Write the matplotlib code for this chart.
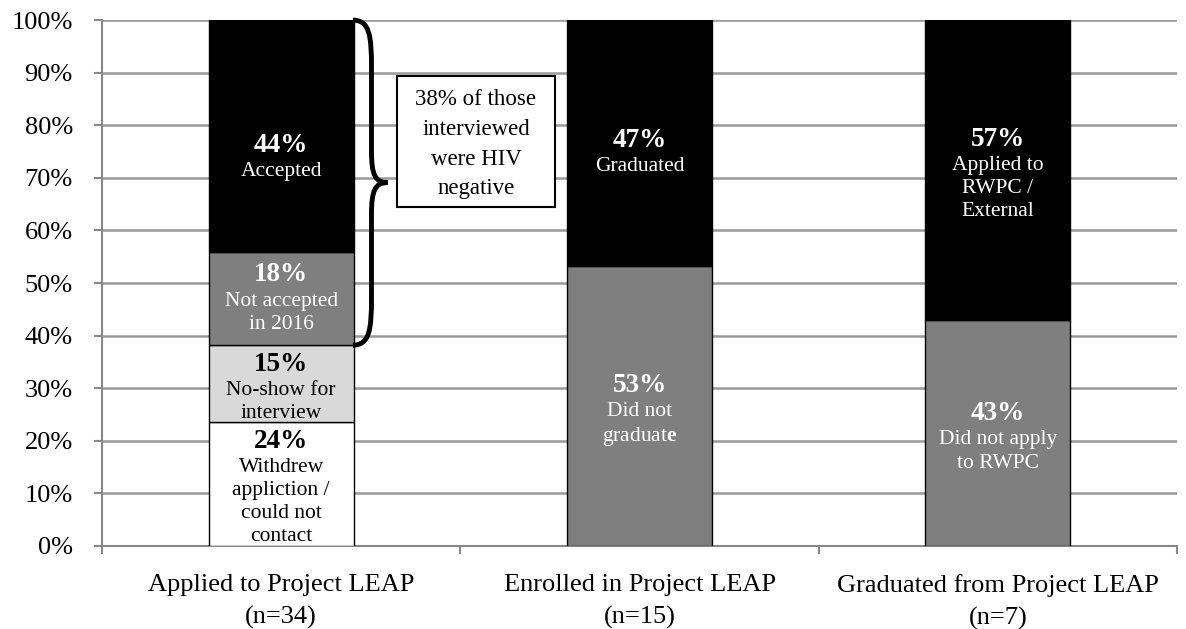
import matplotlib
matplotlib.use("Agg")
import matplotlib.pyplot as plt
from matplotlib.path import Path
from matplotlib.patches import PathPatch, Rectangle
import numpy as np

plt.rcParams['font.family'] = ['Liberation Serif', 'DejaVu Serif']
plt.rcParams['mathtext.fontset'] = 'custom'
plt.rcParams['mathtext.rm'] = 'Liberation Serif'
plt.rcParams['mathtext.bf'] = 'Liberation Serif:bold'

# data
categories = ["Applied to Project LEAP\n(n=34)",
              "Enrolled in Project LEAP\n(n=15)",
              "Graduated from Project LEAP\n(n=7)"]

applied_vals = [23.5, 14.7, 17.7, 44.1]
applied_pct = ["24%", "15%", "18%", "44%"]
applied_desc = ["Withdrew\nappliction /\ncould not\ncontact",
                "No-show for\ninterview",
                "Not accepted\nin 2016",
                "Accepted"]
applied_colors = ["#ffffff", "#d9d9d9", "#7f7f7f", "#000000"]

enrolled_vals = [53.3, 46.7]
enrolled_pct = ["53%", "47%"]
enrolled_desc = ["Did not\ngraduat$\\mathbf{e}$", "Graduated"]

graduated_vals = [42.9, 57.1]
graduated_pct = ["43%", "57%"]
graduated_desc = ["Did not apply\nto RWPC", "Applied to\nRWPC /\nExternal"]

two_colors = ["#7f7f7f", "#000000"]

note_text = "38% of those\ninterviewed\nwere HIV\nnegative"

# label nudges in points (per bar, per segment)
nudges = [[-4, -4, -1, -16], [-3, -8], [-4, -4]]

fig = plt.figure(figsize=(11.86, 6.29), dpi=100)
ax = fig.add_axes([0.086, 0.132, 0.9065, 0.836])

width = 0.405
stacks = [(applied_vals, applied_pct, applied_desc, applied_colors),
          (enrolled_vals, enrolled_pct, enrolled_desc, two_colors),
          (graduated_vals, graduated_pct, graduated_desc, two_colors)]

for i, (vals, pcts, descs, cols) in enumerate(stacks):
    bottom = 0
    for k, (v, p, d, c) in enumerate(zip(vals, pcts, descs, cols)):
        ax.bar(i, v, width, bottom=bottom, color=c, edgecolor="black",
               linewidth=1, zorder=3)
        tc = "white" if c in ("#000000", "#7f7f7f") else "black"
        n = d.count("\n") + 1
        H = 20 + n * 17
        mid = bottom + v / 2
        off = H / 2 + nudges[i][k]
        ax.annotate(p, (i, mid), xytext=(0, off), textcoords="offset points",
                    ha="center", va="top", fontsize=19.5, fontweight="bold",
                    color=tc, zorder=4, annotation_clip=False, clip_on=True)
        ax.annotate(d, (i, mid), xytext=(0, off - 21), textcoords="offset points",
                    ha="center", va="top", fontsize=15.5, color=tc,
                    linespacing=1.3, multialignment="center", zorder=4,
                    clip_on=True)
        bottom += v

# curly brace over "interviewed" segments of the first bar
y0 = applied_vals[0] + applied_vals[1]
y1 = 100
ym = (y0 + y1) / 2
xl, xs, xt = 0.2, 0.252, 0.297
verts = [(xl, y1), (xs - 0.005, y1), (xs, y1 - 3), (xs, y1 - 9),
         (xs, ym + 6),
         (xs, ym + 1.5), (xs + 0.01, ym), (xt, ym),
         (xs + 0.01, ym), (xs, ym - 1.5), (xs, ym - 6),
         (xs, y0 + 9),
         (xs, y0 + 3), (xs - 0.005, y0), (xl, y0)]
codes = [Path.MOVETO, Path.CURVE4, Path.CURVE4, Path.CURVE4,
         Path.LINETO,
         Path.CURVE4, Path.CURVE4, Path.CURVE4,
         Path.CURVE4, Path.CURVE4, Path.CURVE4,
         Path.LINETO,
         Path.CURVE4, Path.CURVE4, Path.CURVE4]
ax.add_patch(PathPatch(Path(verts, codes), facecolor="none", edgecolor="black",
                       linewidth=3.5, zorder=5, clip_on=False))

# note box
ax.add_patch(Rectangle((0.323, 64.4), 0.441, 25.0, facecolor="white",
                       edgecolor="black", linewidth=1.5, zorder=5))
ax.text(0.5435, 76.4, note_text, ha="center", va="center", fontsize=16.5,
        linespacing=1.55, zorder=6)

ax.set_xlim(-0.5, 2.5)
ax.set_ylim(0, 100)
ax.set_yticks(np.arange(0, 101, 10))
ax.set_yticklabels([f"{t}%" for t in range(0, 101, 10)], fontsize=19)
ax.set_xticks(range(3))
ax.set_xticklabels(categories, fontsize=19, linespacing=1.55)
ax.set_xticks([-0.5, 0.5, 1.5, 2.5], minor=True)
ax.tick_params(axis="x", which="major", length=0, pad=20)
ax.tick_params(axis="x", which="minor", length=6, color="#888888", width=1.5)
ax.tick_params(axis="y", length=6, color="#888888", width=1.5, pad=15)
ax.grid(axis="y", color="#999999", linewidth=1.8, zorder=0)
ax.set_axisbelow(True)
for s in ["top", "right"]:
    ax.spines[s].set_visible(False)
for s in ["left", "bottom"]:
    ax.spines[s].set_color("#888888")
    ax.spines[s].set_linewidth(1.5)

fig.savefig("out.png", dpi=100)
